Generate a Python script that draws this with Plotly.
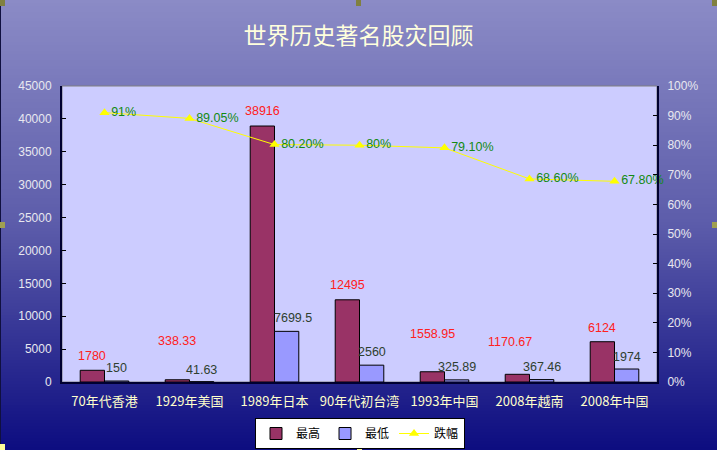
import plotly.graph_objects as go

# ---------------- data ----------------
categories = ["70年代香港", "1929年美国", "1989年日本", "90年代初台湾", "1993年中国", "2008年越南", "2008年中国"]
high_vals = [1780, 338.33, 38916, 12495, 1558.95, 1170.67, 6124]
low_vals = [150, 41.63, 7699.5, 2560, 325.89, 367.46, 1974]
drop_vals = [0.91, 0.8905, 0.802, 0.80, 0.791, 0.686, 0.678]
high_text = ["1780", "338.33", "38916", "12495", "1558.95", "1170.67", "6124"]
low_text = ["150", "41.63", "7699.5", "2560", "325.89", "367.46", "1974"]
drop_text = ["91%", "89.05%", "80.20%", "80%", "79.10%", "68.60%", "67.80%"]
series_names = ["最高", "最低", "跌幅"]
title_text = "世界历史著名股灾回顾"

# ------------- style / layout constants -------------
W, H = 717, 450
ML, MR, MT, MB = 62, 60, 86, 68
PW, PH = W - ML - MR, H - MT - MB
FONT = "Liberation Sans, Arial, Noto Sans CJK SC"
CJK = "Noto Sans CJK SC, Liberation Sans"
HIGH_COLOR = "#993366"
LOW_COLOR = "#9999FF"
LINE_COLOR = "#FFFF00"
half_bar = PW / 7 / 3.5 / 2
# label offsets (px) for the hand-placed labels of the reference
high_label_dy = [14, 39, 15, 15, 38, 32, 14]
high_label_dx = [0, 0, 0, 0, 0, -7, 0]
low_label_dy = [13, 12, 13, 13, 13, 13, 12]
low_label_dx = [0, 0, 6, 0, 0, 0, 0]

fig = go.Figure()
fig.add_trace(go.Bar(x=categories, y=high_vals, name=series_names[0],
                     marker=dict(color=HIGH_COLOR, line=dict(color="#000000", width=1))))
fig.add_trace(go.Bar(x=categories, y=low_vals, name=series_names[1],
                     marker=dict(color=LOW_COLOR, line=dict(color="#000000", width=1))))
fig.add_trace(go.Scatter(x=categories, y=drop_vals, name=series_names[2], yaxis="y2",
                         mode="lines+markers+text", text=drop_text, textposition="middle right",
                         textfont=dict(color="#128A12", size=12.5, family=FONT),
                         line=dict(color=LINE_COLOR, width=1),
                         marker=dict(symbol="triangle-up", size=9, color=LINE_COLOR),
                         cliponaxis=False))

annotations = []
for c, v, t, dy, dx in zip(categories, high_vals, high_text, high_label_dy, high_label_dx):
    annotations.append(dict(x=c, y=v, xref="x", yref="y", text=t, showarrow=False,
                            xshift=-half_bar + dx, yshift=dy, yanchor="middle",
                            font=dict(color="#FF2020", size=12.5, family=FONT)))
for c, v, t, dy, dx in zip(categories, low_vals, low_text, low_label_dy, low_label_dx):
    annotations.append(dict(x=c, y=v, xref="x", yref="y", text=t, showarrow=False,
                            xshift=half_bar + dx, yshift=dy, yanchor="middle",
                            font=dict(color="#2F3F2F", size=12.5, family=FONT)))

# gradient background (shapes, paper coords extend past plot area)
def px2x(px):
    return (px - ML) / PW

def py2y(py):
    return (H - MB - py) / PH

stops = [(0, (139, 139, 198)), (225, (92, 92, 170)), (450, (12, 12, 128))]

def col_at(py):
    for (y0, c0), (y1, c1) in zip(stops[:-1], stops[1:]):
        if y0 <= py <= y1:
            f = (py - y0) / (y1 - y0)
            return "rgb(%d,%d,%d)" % tuple(round(a + (b - a) * f) for a, b in zip(c0, c1))
    return "rgb(%d,%d,%d)" % stops[-1][1]

shapes = []
step = 3
for py in range(0, H, step):
    shapes.append(dict(type="rect", xref="paper", yref="paper", layer="below",
                       x0=px2x(0), x1=px2x(W), y0=py2y(py + step + 0.5), y1=py2y(py),
                       line=dict(width=0), fillcolor=col_at(py + step / 2)))
# plot area background + border
shapes.append(dict(type="rect", xref="paper", yref="paper", layer="below",
                   x0=0, x1=1, y0=0, y1=1, fillcolor="#CCCCFF",
                   line=dict(color="#808080", width=1)))
# left edge dark line
shapes.append(dict(type="line", xref="paper", yref="paper", x0=px2x(0.5), x1=px2x(0.5),
                   y0=py2y(0), y1=py2y(H), line=dict(color="#101040", width=1)))
# selection handles
for hx, hy, hc in [(0, 0, "#808040"), (356, 0, "#808040"), (712, 0, "#808040"),
                   (0, 222, "#A0A050"), (712, 222, "#A0A050"),
                   (357, 444, "#FFFF99"), (0, 444, "#FFFF99")]:
    shapes.append(dict(type="rect", xref="paper", yref="paper",
                       x0=px2x(hx), x1=px2x(hx + 5), y0=py2y(hy + 6), y1=py2y(hy),
                       line=dict(width=0), fillcolor=hc))

fig.update_layout(
    width=W, height=H,
    margin=dict(l=ML, r=MR, t=MT, b=MB, autoexpand=False),
    paper_bgcolor="#5C5CAA",
    plot_bgcolor="rgba(0,0,0,0)",
    barmode="group", bargap=1.5 / 3.5, bargroupgap=0,
    title=dict(text=title_text, x=0.5, xanchor="center", y=1 - 36 / H, yanchor="middle",
               font=dict(family=CJK, size=23, color="#FFFFDD")),
    xaxis=dict(showline=True, linecolor="#000030", linewidth=2, ticks="", showgrid=False,
               tickfont=dict(family=CJK, size=13, color="#FFFFCC"), ticklabelstandoff=6),
    yaxis=dict(range=[0, 45000], dtick=5000, tickformat="d", showgrid=False, zeroline=False,
               showline=True, linecolor="#000030", linewidth=2,
               ticks="inside", ticklen=4, tickcolor="#000000",
               tickfont=dict(family=FONT, size=12, color="#E8E8F0"), ticklabelstandoff=6),
    yaxis2=dict(range=[0, 1], dtick=0.1, tickformat=".0%", overlaying="y", side="right",
                showgrid=False, zeroline=False, showline=True, linecolor="#000030", linewidth=2,
                ticks="inside", ticklen=4, tickcolor="#000000",
                tickfont=dict(family=FONT, size=12, color="#E8E8F0"), ticklabelstandoff=6),
    legend=dict(orientation="h", x=px2x(360), xanchor="center", y=py2y(418), yanchor="top",
                bgcolor="#FFFFFF", bordercolor="#000000", borderwidth=1,
                font=dict(family=CJK, size=12, color="#000000"),
                itemwidth=30, tracegroupgap=0),
    showlegend=True,
    annotations=annotations,
    shapes=shapes,
)

fig.write_html("out.html",
               config={"displayModeBar": False},
               post_script="document.body.style.margin='0';document.body.style.padding='0';"
                           "document.body.style.overflow='hidden';")
